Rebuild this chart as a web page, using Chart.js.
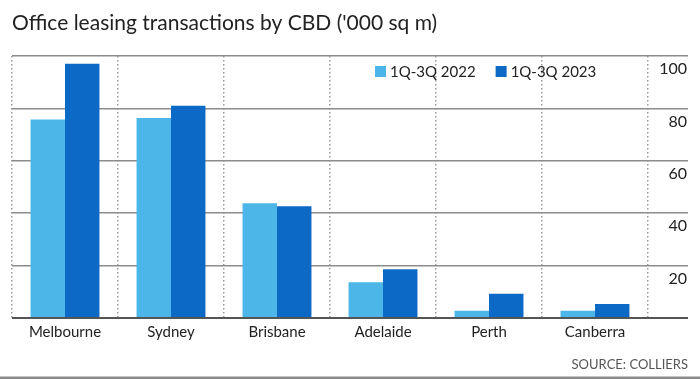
<!DOCTYPE html>
<html>
<head>
<meta charset="utf-8">
<script src="https://cdn.jsdelivr.net/npm/chart.js@4"></script>
<style>
  html, body { margin: 0; padding: 0; background: #ffffff; }
  #wrap { width: 700px; height: 379px; }
</style>
</head>
<body>
<div id="wrap"><canvas id="c" width="700" height="379"></canvas></div>
<script>
const categories = ['Melbourne', 'Sydney', 'Brisbane', 'Adelaide', 'Perth', 'Canberra'];
const seriesLabels = ['1Q-3Q 2022', '1Q-3Q 2023'];
const values2022 = [75.8, 76.3, 43.8, 13.6, 2.8, 2.8];
const values2023 = [97.0, 81.0, 42.7, 18.6, 9.3, 5.3];
const yTicks = [0, 20, 40, 60, 80, 100];

const FONT = 'Lato, "Liberation Sans", sans-serif';
const colors = ['#4cb6e8', '#0c69c6'];

const legendPlugin = {
  id: 'insideLegend',
  afterDraw(chart) {
    const ctx = chart.ctx;
    ctx.save();
    ctx.font = '15px ' + FONT;
    ctx.textBaseline = 'middle';
    ctx.textAlign = 'left';
    let x = 375;
    const yMid = 71.5;
    chart.data.datasets.forEach((ds) => {
      ctx.fillStyle = ds.backgroundColor;
      ctx.fillRect(x, yMid - 5.5, 11, 11);
      ctx.fillStyle = '#222222';
      ctx.fillText(ds.label, x + 15, yMid + 1);
      x += 15 + ctx.measureText(ds.label).width + 20;
    });
    ctx.fillStyle = '#8a8a8a';
    ctx.fillRect(0, 376.5, chart.width, 2.5);
    ctx.restore();
  }
};

new Chart(document.getElementById('c'), {
  type: 'bar',
  data: {
    labels: categories,
    datasets: [
      { label: seriesLabels[0], data: values2022, backgroundColor: colors[0], borderWidth: 0 },
      { label: seriesLabels[1], data: values2023, backgroundColor: colors[1], borderWidth: 0 }
    ]
  },
  options: {
    responsive: false,
    animation: false,
    devicePixelRatio: 1,
    layout: { padding: { left: 12, right: 12, top: 0, bottom: 0 } },
    datasets: { bar: { categoryPercentage: 0.65, barPercentage: 1.0 } },
    plugins: {
      legend: { display: false },
      tooltip: { enabled: false },
      title: {
        display: true,
        text: "Office leasing transactions by CBD ('000 sq m)",
        align: 'start',
        color: '#222222',
        font: { family: FONT, size: 21, weight: 'normal' },
        padding: { top: 10.5, bottom: 20.3 }
      },
      subtitle: {
        display: true,
        position: 'bottom',
        text: 'SOURCE: COLLIERS',
        align: 'end',
        color: '#555555',
        font: { family: FONT, size: 13, weight: 'normal' },
        padding: { top: 14.8, bottom: 6.8 }
      }
    },
    scales: {
      x: {
        type: 'category',
        offset: true,
        afterFit(scale) { scale.height = 23.8; },
        grid: {
          display: true,
          offset: true,
          drawTicks: false,
          color: '#9a9a9a',
          lineWidth: 1.5
        },
        border: { display: false, dash: [1.5, 2.5] },
        ticks: {
          color: '#222222',
          font: { family: FONT, size: 15 },
          padding: 5,
          maxRotation: 0
        }
      },
      y: {
        position: 'right',
        min: 0,
        max: 100,
        afterBuildTicks(scale) {
          scale.ticks = yTicks.map(v => ({ value: v }));
        },
        afterFit(scale) { scale.width = 40; scale.paddingTop = 0; scale.paddingBottom = 0; },
        grid: {
          drawTicks: true,
          tickLength: 40,
          color: (c) => (c.tick && c.tick.value === 0) ? '#555555' : '#8c8c8c',
          lineWidth: (c) => (c.tick && c.tick.value === 0) ? 2 : 1.5
        },
        border: { display: false },
        ticks: {
          mirror: true,
          padding: 39,
          labelOffset: 13,
          color: '#222222',
          font: { family: FONT, size: 16 },
          callback: (v) => (v === 0 ? '' : String(v))
        }
      }
    }
  },
  plugins: [legendPlugin]
});
</script>
</body>
</html>
